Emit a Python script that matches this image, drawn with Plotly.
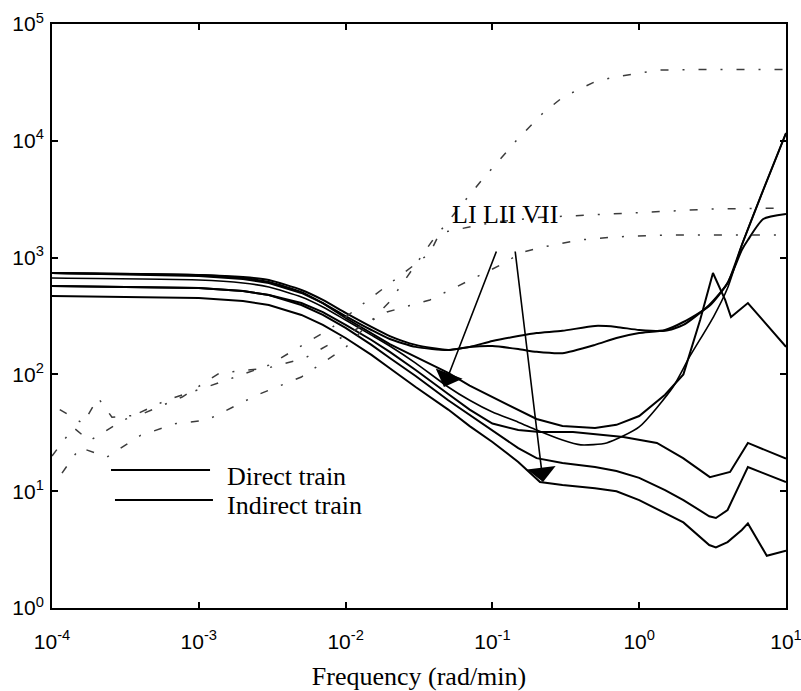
import plotly.graph_objects as go

# ---------------- tick labels ----------------
x_tick_vals = [1e-4, 1e-3, 1e-2, 1e-1, 1e0, 1e1]
x_tick_text = ["10<sup>-4</sup>", "10<sup>-3</sup>", "10<sup>-2</sup>",
               "10<sup>-1</sup>", "10<sup>0</sup>", "10<sup>1</sup>"]
y_tick_vals = [1e0, 1e1, 1e2, 1e3, 1e4, 1e5]
y_tick_text = ["10<sup>0</sup>", "10<sup>1</sup>", "10<sup>2</sup>",
               "10<sup>3</sup>", "10<sup>4</sup>", "10<sup>5</sup>"]

# ---------------- solid curves ----------------
u1_x = [1e-4, 1e-3, 2e-3, 3e-3, 5e-3, 7e-3, 0.01, 0.015, 0.02, 0.03, 0.05, 0.07, 0.1,
        0.15, 0.2, 0.3, 0.5, 0.7, 1, 1.5, 2, 3, 4, 5, 7, 10]
u1_y = [738, 710, 682, 643, 528, 434, 336, 255, 213, 179, 162, 172, 193,
        213, 226, 236, 260, 255, 240, 236, 265, 393, 606, 1282, 3793, 11660]

u2_x = [1e-4, 1e-3, 2e-3, 3e-3, 5e-3, 7e-3, 0.01, 0.015, 0.02, 0.03, 0.05, 0.07, 0.1,
        0.15, 0.2, 0.3, 0.5, 0.7, 1, 1.5, 2, 3, 4, 5, 5.5, 7, 10]
u2_y = [738, 710, 668, 618, 507, 408, 316, 240, 201, 172, 162, 172, 175,
        165, 156, 152, 179, 205, 226, 240, 281, 385, 606, 1161, 1415, 2140, 2360]

c3_x = [1e-4, 1e-3, 2e-3, 3e-3, 5e-3, 7e-3, 0.01, 0.015, 0.02, 0.03, 0.05, 0.07, 0.1,
        0.15, 0.2, 0.3, 0.5, 0.7, 1, 1.5, 2, 2.6, 3.18, 3.85, 4.22, 5.5, 10]
c3_y = [738, 695, 656, 606, 498, 408, 304, 226, 182, 141, 103, 80, 64,
        50, 41.5, 36.1, 34.8, 37, 44, 67, 100, 292, 738, 434, 310, 408, 172]

c4_x = [1e-4, 1e-3, 2e-3, 3e-3, 5e-3, 7e-3, 0.01, 0.015, 0.02, 0.03, 0.05, 0.07, 0.1,
        0.15, 0.2, 0.3, 0.4, 0.6, 1.0, 1.7, 2.2, 3.2, 4.0, 5.0, 7.0, 10]
c4_y = [668, 643, 606, 560, 460, 378, 292, 217, 175, 125, 78, 60, 47.6,
        39, 33.4, 27.4, 24.9, 25.9, 35.5, 78, 141, 310, 549, 1282, 3793, 11660]

c5_x = [1e-4, 1e-3, 2e-3, 3e-3, 5e-3, 7e-3, 0.01, 0.015, 0.02, 0.03, 0.05, 0.07, 0.1,
        0.15, 0.21, 0.354, 0.78, 1.32, 1.99, 3.03, 4.16, 5.5, 10]
c5_y = [571, 549, 518, 479, 408, 342, 265, 197, 156, 109, 68, 50, 38,
        33.4, 32.1, 32.1, 29.1, 25.9, 19.2, 13.2, 14.6, 25.9, 19]

c6_x = [1e-4, 1e-3, 2e-3, 3e-3, 5e-3, 7e-3, 0.01, 0.015, 0.02, 0.03, 0.05, 0.07, 0.1,
        0.15, 0.2, 0.3, 0.5, 0.7, 1, 1.5, 2, 3, 3.33, 4, 5, 5.5, 7, 10]
c6_y = [571, 549, 518, 479, 393, 323, 250, 179, 138, 97, 60, 45, 33.4,
        23.4, 19.2, 17.4, 16.1, 14.9, 13.0, 10.2, 8.4, 6.1, 5.9, 6.9, 12.5, 16.1, 14.3, 12.0]

c7_x = [1e-4, 1e-3, 2e-3, 3e-3, 5e-3, 7e-3, 0.01, 0.015, 0.02, 0.03, 0.05, 0.07, 0.1,
        0.15, 0.211, 0.3, 0.5, 0.7, 1, 1.5, 2, 3, 3.33, 4, 5, 5.5, 7.4, 10]
c7_y = [469, 451, 425, 393, 323, 265, 205, 147, 113, 78, 50, 36.1, 26.4,
        17.8, 12.0, 11.3, 10.6, 10.0, 8.4, 6.5, 5.4, 3.46, 3.3, 3.67, 4.66, 5.3, 2.8, 3.1]

# ---------------- dash-dot curves ----------------
d1_x = [1.17e-4, 1.55e-4, 2.37e-4, 4e-4, 7e-4, 1.13e-3, 2.5e-3, 5e-3, 0.01, 0.02,
        0.0393, 0.0848, 0.147, 0.221, 0.303, 0.485, 0.664, 1.39, 3, 10]
d1_y = [14.3, 23.6, 19.6, 30, 38, 40.5, 66.7, 95, 170, 420,
        1415, 4620, 10170, 17300, 23700, 31500, 35000, 40400, 40800, 40800]

d2_x = [1.13e-4, 1.63e-4, 2.06e-4, 2.56e-4, 3.98e-4, 7.7e-4, 1.39e-3, 2.92e-3, 5.28e-3,
        0.0191, 0.0375, 0.0514, 0.0701, 0.125, 0.153, 0.221, 0.394, 0.664, 1.53, 10]
d2_y = [50, 38, 63, 43, 45, 64, 103, 113, 138,
        342, 434, 528, 643, 917, 1094, 1233, 1415, 1500, 1560, 1560]

d3_x = [1.0e-4, 1.4e-4, 1.8e-4, 3e-4, 6e-4, 1.2e-3, 3e-3, 8e-3, 0.02, 0.0375, 0.0438,
        0.1, 0.2, 0.428, 1, 3, 10]
d3_y = [20, 35, 27, 40, 60, 80, 120, 250, 600, 1094, 1625,
        2000, 2200, 2310, 2450, 2600, 2660]

solid = [
    ("LI direct", u1_x, u1_y, "spline", 2.0),
    ("LII direct", u2_x, u2_y, "spline", 2.0),
    ("VII direct", c3_x, c3_y, "linear", 2.0),
    ("LI indirect", c4_x, c4_y, "spline", 1.6),
    ("LII indirect", c5_x, c5_y, "linear", 2.0),
    ("VII indirect", c6_x, c6_y, "linear", 2.0),
    ("VII indirect 2", c7_x, c7_y, "linear", 2.0),
]
dashed = [("d1", d1_x, d1_y), ("d2", d2_x, d2_y), ("d3", d3_x, d3_y)]

SERIF = "Times New Roman, Liberation Serif, Noto Serif, DejaVu Serif, serif"
SANS = "Arial, Liberation Sans, Helvetica, sans-serif"

fig = go.Figure()
for name, xs, ys, shape, w in solid:
    fig.add_trace(go.Scatter(x=xs, y=ys, mode="lines", name=name,
                             line=dict(color="black", width=w, shape=shape,
                                       smoothing=0.6 if shape == "spline" else None)))
for name, xs, ys in dashed:
    fig.add_trace(go.Scatter(x=xs, y=ys, mode="lines", name=name,
                             line=dict(color="#3c3c3c", width=1.5,
                                       dash="8px,14px,2px,14px")))

axis_common = dict(type="log", showgrid=False, zeroline=False, showline=True,
                   linewidth=2, linecolor="black", mirror="ticks", ticks="inside",
                   ticklen=6, tickwidth=1.5, tickcolor="black",
                   ticklabeloverflow="allow", automargin=False,
                   tickfont=dict(family=SANS, size=21, color="black"))

fig.update_xaxes(range=[-4, 1], tickvals=x_tick_vals, ticktext=x_tick_text,
                 ticklabelstandoff=14,
                 title=dict(text="Frequency (rad/min)",
                            font=dict(family=SERIF, size=26, color="black"),
                            standoff=15),
                 **axis_common)
fig.update_yaxes(range=[0, 5], tickvals=y_tick_vals, ticktext=y_tick_text,
                 ticklabelstandoff=2, **axis_common)

serif = dict(family=SERIF, size=26, color="black")
ann = [
    dict(x=-0.914, y=3.365, xref="x", yref="y", text="LI LII VII", showarrow=False,
         font=serif),
    dict(x=-1.33, y=1.892, ax=-0.969, ay=3.065, xref="x", yref="y", axref="x", ayref="y",
         text="", showarrow=True, arrowhead=1, arrowsize=3.0, arrowwidth=1.6,
         arrowcolor="black"),
    dict(x=-0.655, y=1.079, ax=-0.846, ay=3.065, xref="x", yref="y", axref="x", ayref="y",
         text="", showarrow=True, arrowhead=1, arrowsize=3.0, arrowwidth=1.6,
         arrowcolor="black"),
    dict(x=0.2357, y=0.226, xref="paper", yref="paper", text="Direct train",
         showarrow=False, xanchor="left", yanchor="middle", font=serif),
    dict(x=0.2357, y=0.1747, xref="paper", yref="paper", text="Indirect train",
         showarrow=False, xanchor="left", yanchor="middle", font=serif),
]
shapes = [
    dict(type="line", xref="paper", yref="paper", x0=0.0804, x1=0.2153, y0=0.2363, y1=0.2363,
         line=dict(color="black", width=2)),
    dict(type="line", xref="paper", yref="paper", x0=0.0858, x1=0.2193, y0=0.1849, y1=0.1849,
         line=dict(color="black", width=2)),
]

fig.update_layout(width=801, height=691, margin=dict(l=52, r=15, t=24, b=83),
                  plot_bgcolor="white", paper_bgcolor="white", showlegend=False,
                  annotations=ann, shapes=shapes)

fig.write_html("out.html")
